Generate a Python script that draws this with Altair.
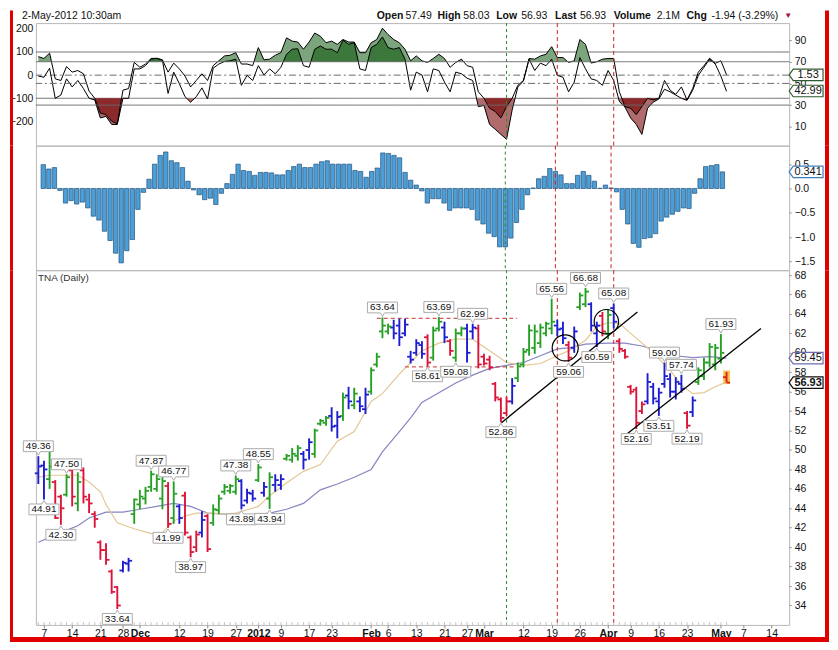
import altair as alt
import pandas as pd

# ---------------- data ----------------
bar_index = list(range(123))
opens = [47.6, 48.4, 47.0, 46.7, 45.2, 45.4, 47.9, 44.5, 47.9, 44.9,
         43.4, 40.5, 39.7, 37.5, 35.9, 37.6, 38.3, 43.4, 44.4, 45.0,
         46.2, 46.0, 45.0, 46.3, 43.0, 44.2, 45.3, 41.0, 40.0, 41.5,
         43.2, 42.5, 43.8, 45.7, 45.8, 45.7, 46.8, 44.8, 45.5, 46.9,
         45.6, 45.0, 46.4, 46.4, 49.1, 49.0, 49.4, 49.6, 50.0, 49.6,
         52.7, 52.8, 53.5, 52.5, 53.5, 55.6, 54.6, 55.0, 54.2, 56.0,
         58.8, 62.2, 62.2, 62.6, 62.8, 62.0, 59.6, 60.0, 60.8, 61.6,
         59.5, 62.5, 62.6, 61.2, 59.5, 62.0, 62.5, 62.2, 62.5, 59.6,
         59.3, 56.8, 55.2, 53.8, 55.0, 57.4, 58.8, 60.3, 60.5, 61.0,
         62.0, 62.5, 62.8, 62.5, 60.8, 60.5, 64.7, 65.0, 65.0, 62.0,
         63.8, 62.0, 64.6, 61.2, 60.2, 56.5, 56.2, 54.0, 55.0, 56.5,
         55.0, 56.8, 57.3, 56.0, 56.8, 53.8, 53.9, 57.0, 57.6, 59.0,
         58.8, 59.4, 57.49]
highs = [49.36, 48.9, 50.3, 46.9, 45.4, 47.50, 48.0, 47.7, 48.2, 45.5,
         43.7, 40.7, 40.4, 37.7, 36.0, 38.6, 38.9, 45.0, 45.9, 46.2,
         47.87, 47.5, 47.2, 46.7, 46.77, 44.4, 45.7, 41.2, 41.7, 43.7,
         43.4, 44.4, 45.4, 46.5, 46.5, 47.38, 47.0, 46.0, 45.9, 48.55,
         46.7, 47.7, 47.5, 47.5, 49.6, 50.2, 50.5, 49.9, 51.2, 52.2,
         53.2, 53.5, 54.4, 54.0, 55.9, 56.5, 56.4, 55.5, 56.4, 58.5,
         60.0, 63.64, 63.0, 63.4, 63.5, 63.5, 60.2, 61.4, 61.2, 61.9,
         62.7, 63.69, 63.2, 61.4, 62.5, 62.7, 63.0, 62.99, 62.9, 59.9,
         59.7, 57.0, 55.4, 55.5, 57.4, 59.0, 60.5, 62.9, 62.9, 63.0,
         63.2, 65.56, 63.4, 63.2, 61.2, 62.7, 66.2, 66.68, 65.2, 63.2,
         64.2, 64.5, 65.08, 61.5, 60.4, 56.7, 56.5, 55.0, 57.9, 56.9,
         56.4, 59.00, 57.9, 57.5, 57.74, 54.0, 55.5, 58.5, 59.5, 61.0,
         60.9, 61.93, 58.03]
lows = [46.5, 44.91, 46.0, 42.9, 42.30, 45.2, 44.2, 43.7, 44.5, 43.5,
        42.0, 38.7, 38.2, 35.2, 33.64, 37.4, 37.5, 42.4, 43.9, 44.4,
        45.7, 45.7, 43.9, 41.99, 42.4, 42.4, 41.2, 38.97, 39.5, 41.0,
        39.5, 42.2, 43.4, 45.4, 45.5, 45.4, 43.89, 44.5, 44.7, 46.7,
        45.2, 43.94, 45.7, 45.9, 48.9, 48.7, 48.9, 48.0, 49.0, 49.2,
        52.5, 52.5, 51.9, 51.2, 53.0, 54.2, 54.2, 53.9, 53.7, 55.7,
        58.5, 61.5, 61.9, 61.4, 60.7, 61.7, 58.9, 59.7, 59.4, 58.61,
        59.2, 62.2, 61.0, 59.7, 59.08, 61.7, 59.0, 61.4, 58.4, 58.7,
        58.2, 55.0, 52.86, 53.5, 54.7, 57.0, 58.5, 59.7, 59.9, 60.5,
        61.7, 61.9, 61.7, 60.9, 59.06, 60.0, 64.4, 64.7, 62.2, 60.59,
        61.7, 61.4, 62.5, 60.0, 59.4, 55.7, 52.16, 53.7, 54.7, 54.7,
        53.51, 56.4, 55.4, 55.2, 55.9, 52.19, 53.4, 56.7, 57.2, 58.5,
        58.2, 58.9, 56.93]
closes = [48.3, 48.0, 48.3, 43.0, 44.0, 47.2, 45.2, 46.7, 45.2, 44.5,
          42.9, 39.7, 38.7, 35.4, 34.0, 38.4, 38.6, 44.9, 45.2, 45.8,
          47.5, 47.0, 46.8, 42.4, 45.5, 43.0, 41.5, 39.5, 41.3, 42.8,
          39.8, 43.9, 45.0, 46.2, 46.3, 47.0, 44.3, 45.6, 45.0, 48.2,
          46.2, 47.2, 46.9, 47.0, 49.4, 49.6, 50.2, 49.0, 50.8, 52.0,
          53.0, 53.3, 52.4, 53.4, 55.4, 55.0, 55.8, 54.5, 55.7, 58.2,
          59.6, 62.8, 62.7, 62.0, 61.6, 62.9, 59.3, 61.0, 59.9, 59.0,
          62.3, 63.2, 61.6, 60.2, 62.0, 62.5, 60.0, 62.6, 58.8, 58.9,
          58.5, 55.4, 53.3, 55.0, 56.6, 58.6, 60.1, 62.3, 62.2, 62.6,
          63.0, 63.2, 62.4, 61.5, 59.5, 62.2, 65.9, 66.3, 62.8, 62.8,
          62.2, 63.9, 63.2, 60.4, 59.6, 56.0, 52.8, 54.7, 57.0, 55.3,
          55.9, 57.6, 56.0, 57.0, 56.3, 52.5, 55.1, 58.2, 59.0, 60.6,
          60.5, 60.0, 56.93]
bar_colors = list("bbgrrgrgrr" "rrrrrbbggg" "gggrgbrrrb" "rgggggbbbg" "bgbbgggbbg"
                  "ggbbgbgbbg" "gggbbbbbbr" "ggbrggbbrr" "rrrrbggggg" "ggbbrbggbb"
                  "rgbrrrrrbb" "bbbbbrbggg" "ggo")

# oscillator panel (two lines, in CCI units of the left axis)
osc_upper = [80, 72, 95, -16, -23, 37, 13, 20, 6, -69,
             -100, -164, -171, -199, -210, -65, -58, 55, 34, 48,
             72, 73, 66, 13, 52, 27, -4, -51, -23, 6,
             -23, 41, 62, 83, 86, 97, 48, 48, 41, 119,
             66, 69, 86, 97, 161, 147, 143, 112, 143, 182,
             168, 140, 147, 133, 154, 143, 143, 97, 97, 140,
             154, 203, 175, 154, 140, 112, 62, 83, 62, 55,
             72, 90, 72, 34, 55, 69, 41, 34, -72, -100,
             -143, -157, -185, -136, -100, -44, -23, 72, 69, 83,
             90, 123, 76, 76, 55, 62, 154, 133, 52, 58,
             69, 72, 72, -72, -136, -143, -171, -136, -100, -107,
             -100, -23, -65, -83, -51, -107, -58, 13, 41, 73,
             51, 62, 2]
osc_lower = [-4, -9, 30, -100, -86, -16, -51, -23, -58, -100,
             -107, -185, -178, -213, -213, -100, -100, 27, 27, 41,
             70, 72, 65, -79, 13, -37, -93, -117, -93, -55,
             -103, 30, 48, 59, 62, 69, -44, -1, -23, 41,
             1, 27, 6, 34, 90, 112, 114, 41, 34, 112,
             126, 112, 112, 97, 151, 133, 140, 27, 20, 119,
             133, 165, 119, 112, 119, 69, -65, 13, 1, -72,
             27, 20, -30, -72, 13, 6, -13, -23, -136, -131,
             -213, -234, -256, -277, -150, -51, -25, 69, 20, 52,
             41, 69, -1, -9, -72, -30, 76, 27, -16, -23,
             -44, 20, -23, -114, -138, -185, -213, -256, -143, -117,
             -103, -61, -72, -86, -100, -109, -65, -1, 34, 69,
             48, -4, -70]
cci_levels = [100, 0, -100]
cci_level_style = ["solid", "dash", "solid"]
rsi_levels = [70, 50, 30]
rsi_level_style = ["solid", "dash", "solid"]
fill_high = 58      # level of the upper filled band (the 70 line), in left-axis units
fill_low = -100

# MACD histogram
macd_hist = [0.49, 0.40, 0.43, -0.04, -0.30, -0.25, -0.32, -0.28, -0.40, -0.57,
             -0.65, -0.88, -1.07, -1.33, -1.53, -1.28, -1.05, -0.43, -0.08, 0.19,
             0.50, 0.68, 0.75, 0.57, 0.53, 0.43, 0.15, -0.03, -0.13, -0.23,
             -0.20, -0.33, -0.10, 0.10, 0.29, 0.50, 0.37, 0.35, 0.27, 0.33,
             0.33, 0.32, 0.28, 0.28, 0.37, 0.45, 0.50, 0.43, 0.43, 0.50,
             0.55, 0.57, 0.50, 0.50, 0.50, 0.50, 0.37, 0.35, 0.23, 0.35,
             0.42, 0.73, 0.72, 0.68, 0.63, 0.33, 0.17, 0.07, -0.05, -0.30,
             -0.21, -0.21, -0.30, -0.45, -0.40, -0.40, -0.40, -0.43, -0.65, -0.73,
             -0.92, -0.99, -1.20, -1.20, -1.02, -0.70, -0.43, -0.13, 0.01, 0.20,
             0.25, 0.41, 0.35, 0.28, 0.10, 0.10, 0.27, 0.35, 0.27, 0.15,
             0.004, 0.07, 0.01, -0.07, -0.43, -0.73, -1.13, -1.21, -1.03, -1.01,
             -0.93, -0.67, -0.59, -0.53, -0.47, -0.40, -0.41, -0.10, 0.20, 0.45,
             0.47, 0.49, 0.341]

# moving averages (read at these bar positions)
ma_short_idx = [0, 2, 7, 9, 11, 12, 14, 17, 20, 22, 24, 26, 28, 31, 33, 35, 39, 41, 44, 47,
                50, 53, 56, 59, 61, 64, 68, 71, 74, 77, 80, 83, 86, 89, 92, 94, 97, 99, 101,
                103, 105, 109, 112, 114, 116, 118, 120, 122]
ma_short_val = [47.2, 47.4, 47.4, 46.7, 45.7, 44.4, 42.5, 41.9, 41.4, 41.5, 42.7, 43.2, 43.5,
                43.5, 43.4, 43.5, 44.2, 45.3, 46.6, 47.8, 48.5, 50.9, 51.9, 55.0, 55.8, 57.8,
                60.2, 61.0, 61.4, 61.4, 60.2, 59.0, 58.7, 58.9, 59.7, 60.2, 61.3, 62.7, 63.1,
                63.0, 62.0, 60.0, 58.2, 56.7, 55.8, 55.9, 56.5, 57.0]
ma_long_idx = [0, 4, 7, 9, 12, 15, 18, 21, 24, 27, 30, 33, 35, 38, 41, 44, 47, 50, 53, 56,
               59, 61, 64, 66, 68, 71, 74, 77, 80, 83, 86, 89, 92, 94, 97, 101, 104, 107,
               110, 113, 116, 119, 122]
ma_long_val = [40.5, 41.5, 42.2, 43.0, 43.6, 43.6, 43.9, 44.2, 44.5, 44.2, 43.5, 43.4, 43.3,
               43.3, 43.5, 43.9, 44.5, 45.9, 46.5, 47.2, 48.0, 49.8, 51.9, 53.3, 54.9, 55.9,
               56.9, 57.7, 58.4, 58.7, 59.0, 59.7, 60.4, 60.5, 60.9, 61.0, 61.0, 60.7, 60.2,
               59.7, 59.5, 59.6, 59.45]

# annotations
label_text = ["49.36", "44.91", "47.50", "42.30", "33.64", "47.87", "41.99", "46.77", "38.97", "47.38",
              "43.89", "48.55", "43.94", "63.64", "58.61", "63.69", "59.08", "62.99", "52.86", "65.56",
              "59.06", "66.68", "60.59", "65.08", "52.16", "53.51", "59.00", "57.74", "52.19", "61.93"]
label_index = [0, 1, 5, 4, 14, 20, 23, 24, 27, 35, 36, 39, 41, 61, 69, 71, 74, 77, 82, 91,
               94, 97, 99, 102, 106, 110, 111, 114, 115, 121]
label_side = ["hi", "lo", "hi", "lo", "lo", "hi", "lo", "hi", "lo", "hi",
              "lo", "hi", "lo", "hi", "lo", "hi", "lo", "hi", "lo", "hi",
              "lo", "hi", "lo", "hi", "lo", "lo", "hi", "hi", "lo", "hi"]
hline_start = [60.0, 65.0]
hline_end = [84.9, 84.6]
hline_price = [63.55, 58.55]
trend_id = ["a", "a", "b", "b"]
trend_idx = [82.1, 106.2, 104.0, 128.1]
trend_price = [52.8, 64.2, 51.5, 62.5]
circle_idx = [93.4, 100.7]
circle_price = [60.5, 63.2]
circle_size = [680, 600]
vline_green = [83]
vline_red = [92, 102]

tick_idx = [1, 6, 11, 15, 18, 25, 30, 35, 39, 43, 48, 52, 59, 62, 67, 72, 76, 79, 86, 91, 96,
            101, 105, 110, 115, 121, 125, 130]
tick_lab = ["7", "14", "21", "28", "Dec", "12", "19", "27", "2012", "9", "17", "23", "Feb", "6",
            "13", "21", "27", "Mar", "12", "19", "26", "Apr", "9", "16", "23", "May", "7", "14"]
bold_ticks = [18, 39, 59, 79, 101, 121]

# ---------------- layout / style ----------------
FONT = "Liberation Sans"
W = 756
H1, H2, H3 = 123, 125, 356
XDOM = [-0.43, 133.1]
FRAME = "#e00000"
GREEN, RED, BLUE = "#25a025", "#dc1437", "#1c1cd0"

one = pd.DataFrame({"k": [0]})


def xenc(axis=None):
    return alt.X("i:Q", scale=alt.Scale(domain=XDOM, nice=False, zero=False), axis=axis)


def deco_rect(x1, x2, y1, y2, color=FRAME):
    return alt.Chart(one).mark_rect(color=color).encode(
        x=alt.value(x1), x2=alt.value(x2), y=alt.value(y1), y2=alt.value(y2))


def deco_text(txt, x, y, **kw):
    return alt.Chart(one).mark_text(text=txt, font=FONT, align="left", baseline="middle", **kw).encode(
        x=alt.value(x), y=alt.value(y))


def band_rows(vals, thr, above):
    rows = []
    seg = 0

    def inside(v):
        return v > thr if above else v < thr
    for k, v in enumerate(vals):
        if k > 0 and inside(vals[k - 1]) != inside(v):
            pv = vals[k - 1]
            t = (thr - pv) / (v - pv)
            rows.append({"seg": seg, "i": k - 1 + t, "v": thr})
            if not inside(v):
                seg += 1
        if inside(v):
            rows.append({"seg": seg, "i": k, "v": v})
    return pd.DataFrame(rows, columns=["seg", "i", "v"])


def vlines(axis=None):
    g = alt.Chart(pd.DataFrame({"i": vline_green})).mark_rule(
        color="#2b8a2b", strokeWidth=1, strokeDash=[3, 3]).encode(x=xenc(axis))
    r = alt.Chart(pd.DataFrame({"i": vline_red})).mark_rule(
        color="#cc2222", strokeWidth=1, strokeDash=[4, 3]).encode(x=xenc(axis))
    return alt.layer(g, r)


TAG_PATH = "M-1,0L-0.76,-0.34H1V0.34H-0.76Z"


def tag(df, yenc, stroke, bold=False):
    shape = alt.Chart(df).mark_point(shape=TAG_PATH, size=1156, filled=True, fill="white",
                                     stroke=stroke, strokeWidth=1.2, opacity=1).encode(
        x=alt.value(W + 17), y=yenc)
    txt = alt.Chart(df).mark_text(font=FONT, fontSize=11, fontWeight="bold" if bold else "normal",
                                  color="#111", align="center", baseline="middle").encode(
        x=alt.value(W + 19), y=yenc, text="txt:N")
    return shape + txt


# ---------------- panel 1 : oscillators ----------------
osc = pd.DataFrame({"i": bar_index, "up": osc_upper, "lo": osc_lower})
CCI_SCALE = alt.Scale(domain=[-304.6, 224.8], nice=False, zero=False)
RSI_SCALE = alt.Scale(domain=[-7.4, 105.6], nice=False, zero=False)
LEFT_AX = alt.Axis(orient="left", values=[-200, -100, 0, 100, 200], tickSize=0, labelPadding=3,
                   title=None, grid=False, domain=False)
RIGHT_AX1 = alt.Axis(orient="right", values=[10, 30, 50, 70, 90], tickSize=2, labelPadding=3,
                     title=None, grid=False, domain=False)


def ycci(f):
    return alt.Y(f, scale=CCI_SCALE, axis=LEFT_AX)


def yrsi(f):
    return alt.Y(f, scale=RSI_SCALE, axis=RIGHT_AX1)


dash_scale = alt.Scale(domain=["solid", "dash"], range=[[1, 0], [7, 3, 2, 3]])
cci_lv = pd.DataFrame({"v": cci_levels, "st": cci_level_style})
rsi_lv = pd.DataFrame({"v": rsi_levels, "st": rsi_level_style})


def area(df, thr, color):
    return alt.Chart(df).mark_area(color=color, opacity=1).encode(
        x=xenc(), y=ycci("v:Q"), y2=alt.datum(thr), detail="seg:N")


left_group = alt.layer(
    alt.Chart(cci_lv).mark_rule(color="#6a6a6a", strokeWidth=1).encode(
        y=ycci("v:Q"), strokeDash=alt.StrokeDash("st:N", scale=dash_scale, legend=None)),
    area(band_rows(osc_upper, fill_high, True), fill_high, "#7da57d"),
    area(band_rows(osc_lower, fill_high, True), fill_high, "#3c783c"),
    area(band_rows(osc_lower, fill_low, False), fill_low, "#b06c6c"),
    area(band_rows(osc_upper, fill_low, False), fill_low, "#8a2a2a"),
    alt.Chart(osc).mark_line(color="black", strokeWidth=1).encode(x=xenc(), y=ycci("up:Q")),
    alt.Chart(osc).mark_line(color="black", strokeWidth=1).encode(x=xenc(), y=ycci("lo:Q")),
    vlines(),
    tag(pd.DataFrame({"v": [1.53], "txt": ["1.53"]}), ycci("v:Q"), "#2f5a2f"),
)
right_group = alt.layer(
    alt.Chart(rsi_lv).mark_rule(color="#6a6a6a", strokeWidth=1).encode(
        y=yrsi("v:Q"), strokeDash=alt.StrokeDash("st:N", scale=dash_scale, legend=None)),
    tag(pd.DataFrame({"v": [42.99], "txt": ["42.99"]}), yrsi("v:Q"), "#2f5a2f"),
)
header = alt.layer(
    deco_rect(-26, -23, -12.7, H1), deco_rect(W + 36, W + 40, -12.7, H1),
    deco_text("2-May-2012 10:30am", -14, -7.6, fontSize=10.5, color="#111"),
    deco_text("Open", 342, -7.6, fontSize=10.5, fontWeight="bold", color="#111"),
    deco_text("57.49", 371, -7.6, fontSize=10.5, color="#111"),
    deco_text("High", 403, -7.6, fontSize=10.5, fontWeight="bold", color="#111"),
    deco_text("58.03", 429, -7.6, fontSize=10.5, color="#111"),
    deco_text("Low", 462, -7.6, fontSize=10.5, fontWeight="bold", color="#111"),
    deco_text("56.93", 487, -7.6, fontSize=10.5, color="#111"),
    deco_text("Last", 521, -7.6, fontSize=10.5, fontWeight="bold", color="#111"),
    deco_text("56.93", 546, -7.6, fontSize=10.5, color="#111"),
    deco_text("Volume", 580, -7.6, fontSize=10.5, fontWeight="bold", color="#111"),
    deco_text("2.1M", 623, -7.6, fontSize=10.5, color="#111"),
    deco_text("Chg", 653, -7.6, fontSize=10.5, fontWeight="bold", color="#111"),
    deco_text("-1.94 (-3.29%)", 678, -7.6, fontSize=10.5, color="#111"),
    deco_text("\u25bc", 751, -7.6, fontSize=8, color="#a01040"),
)
panel1 = alt.layer(left_group, right_group, header).resolve_scale(y="independent").properties(
    width=W, height=H1)

# ---------------- panel 2 : MACD histogram ----------------
macd = pd.DataFrame({"i": bar_index, "h": macd_hist})
MACD_AX = alt.Axis(orient="right", values=[-1.5, -1.0, -0.5, 0.0, 0.5], format=".1f", tickSize=2,
                   labelPadding=3, title=None, grid=False, domain=False)
MACD_SCALE = alt.Scale(domain=[-1.68, 0.88], nice=False, zero=False)


def ymacd(f):
    return alt.Y(f, scale=MACD_SCALE, axis=MACD_AX)


panel2 = alt.layer(
    alt.Chart(macd).mark_bar(size=4.4, fill="#4c9ed6", stroke="#21527f", strokeWidth=0.7).encode(
        x=xenc(), y=ymacd("h:Q"), y2=alt.datum(0)),
    vlines(),
    tag(pd.DataFrame({"v": [0.341], "txt": ["0.341"]}), ymacd("v:Q"), "#3b7fc0"),
    deco_rect(-26, -23, 0, H2), deco_rect(W + 36, W + 40, 0, H2),
).properties(width=W, height=H2)

# ---------------- panel 3 : price ----------------
bars = pd.DataFrame({"i": bar_index, "o": opens, "h": highs, "l": lows, "c": closes, "col": bar_colors})
lab_df = pd.DataFrame({"i": label_index, "p": [float(t) for t in label_text], "txt": label_text,
                       "side": label_side})
last = bars.tail(1).assign(i1=lambda d: d.i - 0.6, i2=lambda d: d.i + 0.6,
                           y1=lambda d: d.l - 0.15, y2=lambda d: d.h + 0.15)

X_AX = alt.Axis(values=tick_idx,
                labelExpr="[" + ",".join("'%s'" % t for t in tick_lab) + "][indexof(["
                + ",".join(str(t) for t in tick_idx) + "], datum.value)]",
                labelFontWeight={"condition": {"test": "indexof([%s], datum.value) >= 0"
                                               % ",".join(str(b) for b in bold_ticks),
                                               "value": "bold"}, "value": "normal"},
                tickSize=3, labelPadding=1, labelOverlap=False, labelFlush=False, title=None,
                grid=False, domain=False, labelFontSize=10.5)
PRICE_AX = alt.Axis(orient="right", values=list(range(34, 69, 2)), tickSize=2, labelPadding=3,
                    title=None, grid=False, domain=False)
PRICE_SCALE = alt.Scale(domain=[32.0, 68.5], nice=False, zero=False)


def yp(f):
    return alt.Y(f, scale=PRICE_SCALE, axis=PRICE_AX)


def xp(f="i:Q"):
    return alt.X(f, scale=alt.Scale(domain=XDOM, nice=False, zero=False), axis=X_AX)


COL = alt.Color("col:N", scale=alt.Scale(domain=["g", "r", "b", "o"], range=[GREEN, RED, BLUE, "#e41a1a"]),
                legend=None)

HI_PATH = "M-0.94,-0.34H0.94V0.34H0.13L0,0.56L-0.13,0.34H-0.94Z"
LO_PATH = "M-0.94,0.34H0.94V-0.34H0.13L0,-0.56L-0.13,-0.34H-0.94Z"


def labels(side, path, off):
    d = lab_df[lab_df.side == side]
    box = alt.Chart(d).mark_point(shape=path, size=1024, filled=True, fill="white", stroke="#ababab",
                                  strokeWidth=1, opacity=1, yOffset=off).encode(x=xp(), y=yp("p:Q"))
    txt = alt.Chart(d).mark_text(font=FONT, fontSize=10, color="#111", yOffset=off,
                                 baseline="middle").encode(x=xp(), y=yp("p:Q"), text="txt:N")
    return box + txt


ma_s = pd.DataFrame({"i": ma_short_idx, "v": ma_short_val})
ma_l = pd.DataFrame({"i": ma_long_idx, "v": ma_long_val})
hl = pd.DataFrame({"i": hline_start, "i2": hline_end, "p": hline_price})
tr = pd.DataFrame({"id": trend_id, "i": trend_idx, "p": trend_price})
circ = pd.DataFrame({"i": circle_idx, "p": circle_price, "s": circle_size})

panel3 = alt.layer(
    alt.Chart(last).mark_rect(color="#f7c34a").encode(x=xp("i1:Q"), x2="i2:Q", y=yp("y1:Q"), y2="y2:Q"),
    alt.Chart(ma_l).mark_line(color="#8585c2", strokeWidth=1.2).encode(x=xp(), y=yp("v:Q")),
    alt.Chart(ma_s).mark_line(color="#e3c896", strokeWidth=1.2).encode(x=xp(), y=yp("v:Q")),
    alt.Chart(hl).mark_rule(color="#c83030", strokeDash=[4, 3], strokeWidth=1).encode(
        x=xp(), x2="i2:Q", y=yp("p:Q")),
    vlines(X_AX),
    alt.Chart(bars).mark_rule(strokeWidth=1.9).encode(x=xp(), y=yp("l:Q"), y2="h:Q", color=COL),
    alt.Chart(bars).mark_tick(orient="horizontal", size=3, thickness=1.8, xOffset=-2, opacity=1).encode(
        x=xp(), y=yp("o:Q"), color=COL),
    alt.Chart(bars).mark_tick(orient="horizontal", size=3, thickness=1.8, xOffset=2, opacity=1).encode(
        x=xp(), y=yp("c:Q"), color=COL),
    alt.Chart(tr).mark_line(color="black", strokeWidth=1.3).encode(x=xp(), y=yp("p:Q"), detail="id:N"),
    alt.Chart(circ).mark_point(shape="circle", filled=False, stroke="black", strokeWidth=1.2,
                               opacity=1).encode(x=xp(), y=yp("p:Q"),
                                                 size=alt.Size("s:Q", scale=None, legend=None)),
    alt.Chart(bars).mark_tick(orient="vertical", size=3, thickness=1, color="#b0b0b0").encode(
        x=xp(), y=alt.value(H3 - 1.5)),
    labels("hi", HI_PATH, -10),
    labels("lo", LO_PATH, 10),
    tag(pd.DataFrame({"v": [59.45], "txt": ["59.45"]}), yp("v:Q"), "#6c6cb0"),
    tag(pd.DataFrame({"v": [56.93], "txt": ["56.93"]}), yp("v:Q"), "#111111", bold=True),
    deco_text("TNA (Daily)", 2, 7.5, fontSize=10, color="#333"),
    deco_rect(-26, -23, 0, H3 + 17.1), deco_rect(W + 36, W + 40, 0, H3 + 17.1),
    deco_rect(-26, W + 40, H3 + 12.2, H3 + 17.1),
).properties(width=W, height=H3)

chart = alt.vconcat(panel1, panel2, panel3, spacing=0, bounds="flush").properties(
    padding=0, background="white"
).configure_view(stroke="#b8b8b8", strokeWidth=1).configure_axis(
    labelFont=FONT, labelFontSize=10.5, labelColor="#111", tickColor="#888"
)

chart.save("out.html", embed_options={"renderer": "svg", "actions": False})
